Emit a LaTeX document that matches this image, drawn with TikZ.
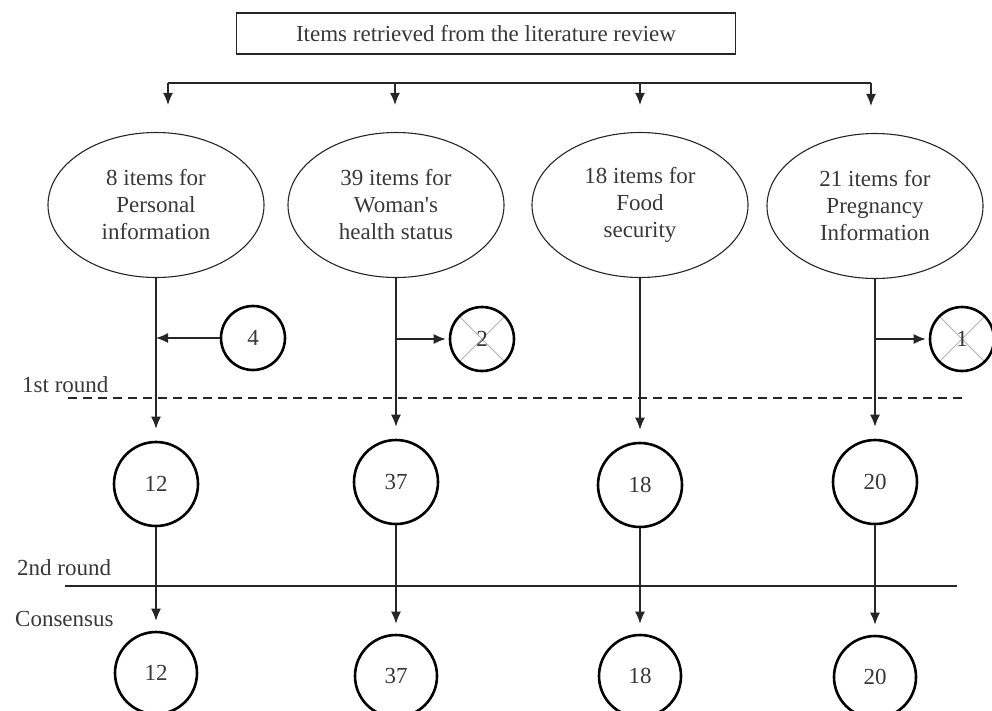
\documentclass[tikz,border=0pt]{standalone}
\usepackage{fontspec}
\setmainfont{Liberation Serif}[Ligatures=TeXOff]
\usetikzlibrary{arrows.meta,positioning,shapes,calc}

\begin{document}
\begin{tikzpicture}[x=1pt,y=-1pt,
    font=\fontsize{23}{27}\selectfont,
    every node/.style={text=black!78},
    area/.style={draw=black!85,ellipse,line width=1.1pt,minimum width=216pt,minimum height=145pt,inner sep=0pt,align=center},
    count/.style={draw=black,circle,line width=2.6pt,minimum size=84pt,inner sep=0pt},
    side/.style={draw=black,circle,line width=2.6pt,minimum size=64pt,inner sep=0pt},
    dropped/.style={side,path picture={\draw[black!30,line width=1pt]
        (path picture bounding box.north west) -- (path picture bounding box.south east)
        (path picture bounding box.north east) -- (path picture bounding box.south west);}},
    phase/.style={anchor=west,inner sep=0pt},
    link/.style={-{Latex[length=12pt,width=10pt]},line width=1.3pt,draw=black!85}]
    \useasboundingbox (0,0) rectangle (992,710);

    \node[draw=black!85,line width=1.2pt,minimum width=499pt,minimum height=41pt] (src) at (486,33.5) {Items retrieved from the literature review};

    % bus under the source box
    \coordinate (b1) at (168,83);
    \coordinate (b2) at (395,83);
    \coordinate (b3) at (640,83);
    \coordinate (b4) at (871,83);
    \draw[line width=1.3pt,black!85] (b1) -- (b4);

    \node[area] (pers) at (156,205) {8 items for\\Personal\\information};
    \node[area] (health) at (396,205) {39 items for\\Woman's\\health status};
    \node[area] (food) at (640,205) {18 items for\\Food\\security};
    \node[area] (preg) at (875,206) {21 items for\\Pregnancy\\Information};

    \node[side] (add) at (253,338) {4};
    \node[dropped] (dropa) at (482,339) {2};
    \node[dropped] (dropb) at (962,339) {1};

    \node[count] (p1) at (156,484) {12};
    \node[count] (h1) at (396,482) {37};
    \node[count] (f1) at (640,485) {18};
    \node[count] (g1) at (875,482) {20};

    \node[count,minimum size=82pt] (p2) at (156,673) {12};
    \node[count,minimum size=82pt] (h2) at (396,676) {37};
    \node[count,minimum size=82pt] (f2) at (640,676) {18};
    \node[count,minimum size=82pt] (g2) at (875,677) {20};

    \node[phase] (r1) at (22,385) {1st round};
    \node[phase] (r2) at (17,568) {2nd round};
    \node[phase] (r3) at (15,619) {Consensus};
    \coordinate (d1) at (68,398);
    \coordinate (d2) at (962,398);
    \coordinate (s1) at (65,586);
    \coordinate (s2) at (957,586);
    \draw[line width=1.2pt,black!85,dash pattern=on 9pt off 6pt] (d1) -- (d2);
    \draw[line width=1.3pt,black!85] (s1) -- (s2);

    \foreach \b/\e in {b1/pers,b2/health,b3/food,b4/preg}
      \draw[link,shorten >=27pt] (\b) -- (\b |- \e.north);
    \foreach \e/\m in {pers/p1,health/h1,food/f1,preg/g1}
      \draw[link,shorten >=12pt] (\e.south) -- (\m.north);
    \foreach \m/\n in {p1/p2,h1/h2,f1/f2,g1/g2}
      \draw[link,shorten >=10pt] (\m.south) -- (\n.north);

    \draw[link] (add.west) -- (add.west -| pers.south);
    \draw[link,shorten >=3pt] (dropa.west -| health.south) -- (dropa.west);
    \draw[link,shorten >=3pt] (dropb.west -| preg.south) -- (dropb.west);
\end{tikzpicture}
\end{document}
